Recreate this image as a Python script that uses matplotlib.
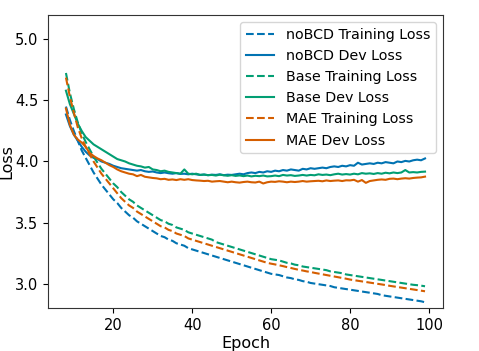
import matplotlib
matplotlib.use("Agg")
import matplotlib.pyplot as plt

epochs = list(range(8, 100))

nobcd_train = [4.45, 4.34, 4.25, 4.17, 4.09, 4.03, 3.97, 3.91, 3.86, 3.81,
               3.77, 3.73, 3.69, 3.66, 3.62, 3.59, 3.56, 3.54, 3.51, 3.49,
               3.47, 3.45, 3.43, 3.41, 3.39, 3.38, 3.36, 3.35, 3.33, 3.32,
               3.31, 3.29, 3.28, 3.27, 3.26, 3.25, 3.24, 3.23, 3.22, 3.21,
               3.20, 3.19, 3.18, 3.17, 3.16, 3.15, 3.14, 3.13, 3.12, 3.11,
               3.10, 3.09, 3.08, 3.075, 3.07, 3.06, 3.05, 3.045, 3.035, 3.03,
               3.02, 3.015, 3.005, 3.0, 2.995, 2.99, 2.985, 2.98, 2.97, 2.965,
               2.96, 2.955, 2.95, 2.945, 2.94, 2.935, 2.93, 2.925, 2.92, 2.915,
               2.905, 2.9, 2.895, 2.89, 2.885, 2.88, 2.875, 2.87, 2.865, 2.86,
               2.855, 2.847]

nobcd_dev = [4.385, 4.29, 4.22, 4.17, 4.12, 4.08, 4.05, 4.03, 4.02, 4.00,
             3.99, 3.98, 3.965, 3.955, 3.945, 3.94, 3.935, 3.93, 3.925, 3.93,
             3.92, 3.915, 3.918, 3.91, 3.905, 3.91, 3.904, 3.90, 3.905, 3.898,
             3.90, 3.895, 3.90, 3.895, 3.89, 3.893, 3.888, 3.892, 3.89, 3.895,
             3.888, 3.892, 3.89, 3.895, 3.90, 3.895, 3.905, 3.91, 3.905, 3.915,
             3.91, 3.92, 3.915, 3.925, 3.92, 3.93, 3.925, 3.935, 3.93, 3.925,
             3.94, 3.935, 3.945, 3.94, 3.945, 3.95, 3.945, 3.955, 3.96, 3.955,
             3.965, 3.96, 3.97, 3.965, 3.99, 3.975, 3.98, 3.985, 3.98, 3.99,
             3.985, 3.995, 3.99, 3.985, 4.0, 3.995, 4.005, 4.0, 4.01, 4.015,
             4.01, 4.025]

base_train = [4.725, 4.56, 4.43, 4.32, 4.23, 4.16, 4.10, 4.04, 3.99, 3.94,
              3.90, 3.86, 3.82, 3.79, 3.75, 3.72, 3.69, 3.67, 3.64, 3.62,
              3.60, 3.58, 3.56, 3.54, 3.52, 3.51, 3.49, 3.48, 3.46, 3.45,
              3.44, 3.42, 3.41, 3.40, 3.39, 3.38, 3.37, 3.36, 3.34, 3.33,
              3.32, 3.31, 3.30, 3.29, 3.28, 3.27, 3.26, 3.25, 3.24, 3.23,
              3.22, 3.21, 3.20, 3.195, 3.19, 3.18, 3.17, 3.165, 3.155, 3.15,
              3.14, 3.135, 3.13, 3.125, 3.12, 3.115, 3.11, 3.10, 3.095, 3.09,
              3.085, 3.075, 3.07, 3.065, 3.06, 3.055, 3.05, 3.045, 3.04, 3.035,
              3.03, 3.025, 3.02, 3.015, 3.01, 3.005, 3.0, 2.995, 2.99, 2.987,
              2.983, 2.978]

base_dev = [4.58, 4.47, 4.39, 4.31, 4.25, 4.20, 4.17, 4.14, 4.12, 4.10,
            4.08, 4.06, 4.04, 4.02, 4.01, 4.00, 3.985, 3.975, 3.965, 3.96,
            3.95, 3.955, 3.935, 3.93, 3.92, 3.925, 3.915, 3.91, 3.905, 3.90,
            3.935, 3.90, 3.895, 3.90, 3.89, 3.893, 3.888, 3.89, 3.885, 3.892,
            3.887, 3.883, 3.888, 3.882, 3.886, 3.88, 3.885, 3.878, 3.883, 3.88,
            3.885, 3.878, 3.88, 3.885, 3.88, 3.89, 3.885, 3.888, 3.882, 3.885,
            3.89, 3.885, 3.89, 3.887, 3.895, 3.89, 3.893, 3.888, 3.895, 3.90,
            3.893, 3.897, 3.893, 3.90, 3.895, 3.905, 3.90, 3.903, 3.898, 3.905,
            3.90, 3.908, 3.903, 3.91, 3.905, 3.91, 3.93, 3.91, 3.913, 3.91,
            3.915, 3.917]

mae_train = [4.687, 4.53, 4.40, 4.28, 4.19, 4.12, 4.06, 4.0, 3.95, 3.90,
             3.86, 3.82, 3.78, 3.74, 3.70, 3.67, 3.64, 3.62, 3.59, 3.57,
             3.55, 3.53, 3.51, 3.49, 3.47, 3.46, 3.44, 3.43, 3.41, 3.40,
             3.39, 3.37, 3.36, 3.35, 3.34, 3.33, 3.32, 3.31, 3.30, 3.29,
             3.28, 3.27, 3.26, 3.25, 3.24, 3.23, 3.22, 3.21, 3.20, 3.19,
             3.18, 3.17, 3.163, 3.157, 3.15, 3.143, 3.135, 3.128, 3.12, 3.113,
             3.107, 3.10, 3.095, 3.088, 3.082, 3.076, 3.07, 3.064, 3.058, 3.052,
             3.046, 3.04, 3.033, 3.028, 3.023, 3.018, 3.013, 3.008, 3.003, 2.998,
             2.993, 2.988, 2.982, 2.977, 2.972, 2.967, 2.962, 2.957, 2.952, 2.947,
             2.942, 2.937]

mae_dev = [4.434, 4.30, 4.22, 4.18, 4.155, 4.12, 4.07, 4.045, 4.025, 4.01,
           3.99, 3.97, 3.955, 3.935, 3.92, 3.91, 3.90, 3.895, 3.88, 3.89,
           3.875, 3.87, 3.865, 3.862, 3.855, 3.858, 3.85, 3.853, 3.848, 3.855,
           3.85, 3.855, 3.848, 3.845, 3.843, 3.84, 3.842, 3.835, 3.838, 3.84,
           3.835, 3.83, 3.835, 3.83, 3.827, 3.832, 3.835, 3.83, 3.828, 3.835,
           3.82, 3.83, 3.835, 3.833, 3.838, 3.835, 3.83, 3.835, 3.832, 3.835,
           3.84, 3.835, 3.838, 3.84, 3.842, 3.838, 3.845, 3.84, 3.843, 3.845,
           3.84, 3.846, 3.845, 3.85, 3.835, 3.848, 3.825, 3.84, 3.845, 3.85,
           3.853, 3.85, 3.858, 3.86, 3.855, 3.86, 3.863, 3.86, 3.865, 3.868,
           3.87, 3.876]

series = [
    ("noBCD Training Loss", nobcd_train, "#0173b2", "--"),
    ("noBCD Dev Loss", nobcd_dev, "#0173b2", "-"),
    ("Base Training Loss", base_train, "#029e73", "--"),
    ("Base Dev Loss", base_dev, "#029e73", "-"),
    ("MAE Training Loss", mae_train, "#d55e00", "--"),
    ("MAE Dev Loss", mae_dev, "#d55e00", "-"),
]

for name, vals, _, _ in series:
    assert len(vals) == len(epochs), (name, len(vals))

fig = plt.figure(figsize=(4.79, 3.51), dpi=100)
ax = fig.add_axes([0.1002, 0.1225, 0.8246, 0.8348])

for name, vals, color, ls in series:
    ax.plot(epochs, vals, ls, color=color, lw=1.5, label=name)

ax.set_ylim(2.8, 5.2)
ax.set_yticks([3.0, 3.5, 4.0, 4.5, 5.0])
ax.set_xticks([20, 40, 60, 80, 100])
ax.tick_params(labelsize=10.5)
ax.set_xlabel("Epoch", fontsize=11.5, labelpad=2)
ax.set_ylabel("Loss", fontsize=11.5, labelpad=0.5)
for s in ax.spines.values():
    s.set_color("#333333")
ax.legend(loc="upper right", fontsize=10.3)

fig.savefig("out.png", dpi=100)
